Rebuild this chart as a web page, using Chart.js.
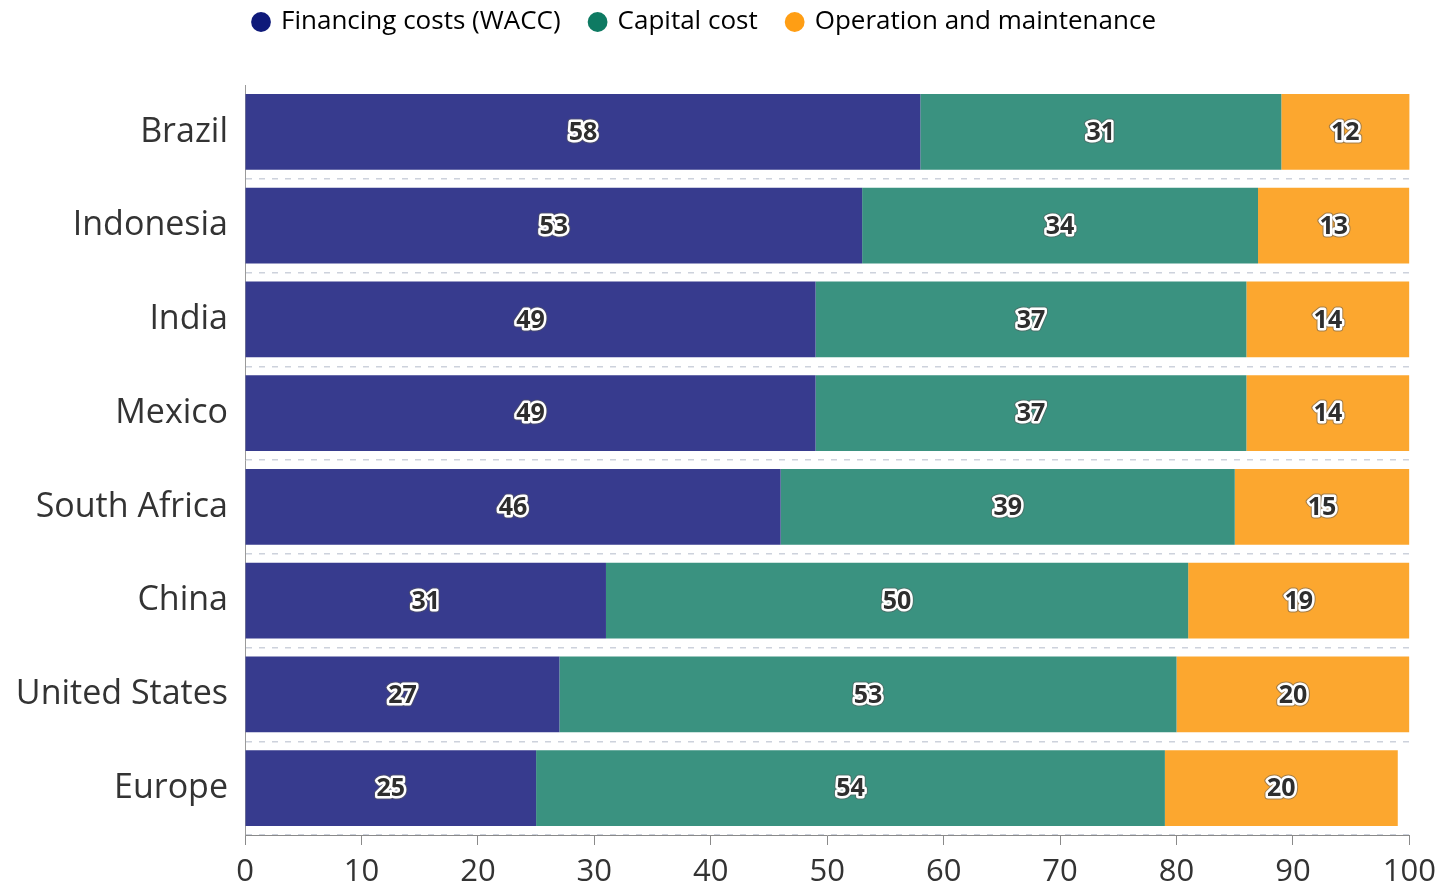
<!DOCTYPE html>
<html>
<head>
<meta charset="utf-8">
<script src="https://cdn.jsdelivr.net/npm/chart.js@4.4.0/dist/chart.umd.min.js"></script>
<style>
  html, body { margin: 0; padding: 0; background: #fff; }
  #wrap { width: 1445px; height: 888px; }
</style>
</head>
<body>
<div id="wrap"><canvas id="costChart" width="1445" height="888"></canvas></div>
<script>
// datos
const countries = ['Brazil', 'Indonesia', 'India', 'Mexico', 'South Africa', 'China', 'United States', 'Europe'];
const financing = [58, 53, 49, 49, 46, 31, 27, 25];
const capital = [31, 34, 37, 37, 39, 50, 53, 54];
const operation = [12, 13, 14, 14, 15, 19, 20, 20];
const seriesNames = ['Financing costs (WACC)', 'Capital cost', 'Operation and maintenance'];
const xTicks = [0, 10, 20, 30, 40, 50, 60, 70, 80, 90, 100];

const barColors = ['#373b8e', '#3a9280', '#fca72f'];
const legendColors = ['#0f1a7a', '#0e7a62', '#ff9e14'];
const FONT = '"Open Sans", "Noto Sans", sans-serif';

// etiquetas con contorno blanco dentro de cada barra
const valueLabels = {
    id: 'valueLabels',
    afterDatasetsDraw(chart) {
        const ctx = chart.ctx;
        ctx.save();
        ctx.font = 'bold 25px ' + FONT;
        ctx.textAlign = 'center';
        ctx.textBaseline = 'middle';
        ctx.lineJoin = 'round';
        chart.data.datasets.forEach((ds, di) => {
            const meta = chart.getDatasetMeta(di);
            meta.data.forEach((bar, i) => {
                const right = Math.min(bar.x, chart.chartArea.right);
                const cx = (right + bar.base) / 2;
                const txt = String(ds.data[i]);
                ctx.lineWidth = 7;
                ctx.strokeStyle = 'rgba(90,90,90,0.55)';
                ctx.strokeText(txt, cx, bar.y + 1);
                ctx.lineWidth = 5;
                ctx.strokeStyle = '#ffffff';
                ctx.strokeText(txt, cx, bar.y + 1);
                ctx.fillStyle = '#2e2e2e';
                ctx.fillText(txt, cx, bar.y + 1);
            });
        });
        ctx.restore();
    }
};

// fija la altura de la leyenda para que el area empiece en y=85
const legendHeight = {
    id: 'legendHeight',
    beforeInit(chart) {
        const origFit = chart.legend.fit;
        chart.legend.fit = function () {
            origFit.call(this);
            this.height = 85;
        };
    },
    afterLayout(chart) {
        // sube la fila de la leyenda
        chart.legend.top = -21;
    }
};

const ctx = document.getElementById('costChart').getContext('2d');
new Chart(ctx, {
    type: 'bar',
    data: {
        labels: countries,
        datasets: [financing, capital, operation].map((vals, k) => ({
            label: seriesNames[k],
            data: vals,
            backgroundColor: barColors[k],
            borderWidth: 0,
            barPercentage: 0.9,
            categoryPercentage: 0.9
        }))
    },
    options: {
        indexAxis: 'y',
        responsive: false,
        animation: false,
        layout: { padding: { left: 0, right: 35, top: 0, bottom: 0 } },
        scales: {
            x: {
                stacked: true, min: 0, max: 100,
                afterBuildTicks: (scale) => { scale.ticks = xTicks.map(v => ({ value: v })); },
                afterFit: (scale) => { scale.height = 53; },
                grid: { drawOnChartArea: false, drawTicks: true, tickLength: 10, color: '#8a8a8a' },
                border: { display: true, color: '#8a8a8a', width: 1 },
                ticks: { color: '#333', padding: 9, font: { family: FONT, size: 31 } }
            },
            y: {
                stacked: true,
                afterFit: (scale) => { scale.width = 245; },
                grid: {
                    offset: true, drawTicks: false,
                    color: (c) => (c.index === 0 || c.index === countries.length) ? 'rgba(0,0,0,0)' : '#cdd2dc',
                    lineWidth: 1.5
                },
                border: { display: true, color: '#9a9a9a', width: 1, dash: [6, 7] },
                ticks: { color: '#333', padding: 17, font: { family: FONT, size: 34 } }
            }
        },
        plugins: {
            tooltip: { enabled: false },
            legend: {
                position: 'top',
                labels: {
                    usePointStyle: true,
                    pointStyle: 'circle',
                    boxWidth: 14,
                    boxHeight: 14,
                    padding: 30,
                    color: '#555',
                    font: { family: FONT, size: 26 },
                    generateLabels: (chart) => chart.data.datasets.map((ds, i) => ({
                        text: ds.label,
                        fillStyle: legendColors[i],
                        strokeStyle: legendColors[i],
                        lineWidth: 0,
                        pointStyle: 'circle',
                        datasetIndex: i,
                        hidden: false
                    }))
                }
            }
        }
    },
    plugins: [valueLabels, legendHeight]
});
</script>
</body>
</html>
